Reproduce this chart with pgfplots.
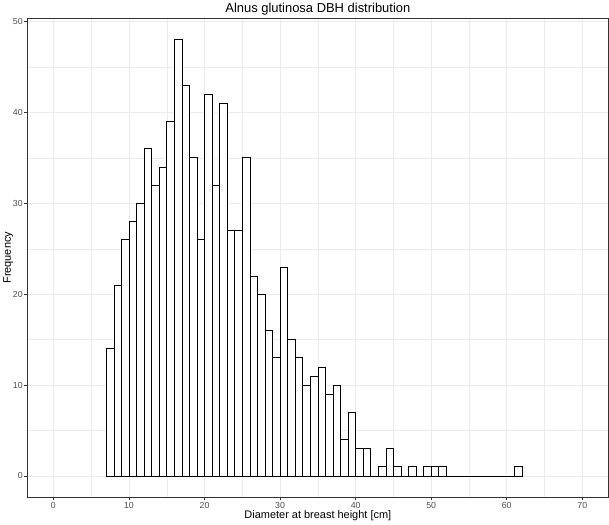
\documentclass[border=0pt]{standalone}
\usepackage{fontspec}
\setmainfont{Liberation Sans}
\usepackage{pgfplots}
\pgfplotsset{compat=1.18}
\definecolor{gray92}{gray}{0.92}
\definecolor{gray20}{gray}{0.20}
\definecolor{gray30}{gray}{0.30}
\begin{document}
\begin{tikzpicture}
\begin{axis}[
  scale only axis, width=582bp, height=480bp,
  xmin=-3.5, xmax=73.5, ymin=-2.4, ymax=50.4,
  xtick={0,10,...,70}, ytick={0,10,...,50},
  minor xtick={5,15,...,65}, minor ytick={5,15,...,45},
  grid=both,
  major grid style={color=gray92, line width=0.55bp},
  minor grid style={color=gray92, line width=0.3bp},
  axis line style={gray20, line width=0.55bp},
  tick align=outside, xtick pos=bottom, ytick pos=left,
  major tick length=2.75bp, minor tick length=0pt,
  tick style={gray20, line width=0.55bp},
  /pgf/number format/assume math mode=true,
  tick label style={font=\fontsize{8.8}{10}\selectfont, text=gray30},
  xticklabel style={yshift=1.5bp},
  yticklabel style={xshift=2bp},
  title={Alnus glutinosa DBH distribution},
  title style={font=\fontsize{13}{15}\selectfont, yshift=-7bp},
  xlabel={Diameter at breast height [cm]},
  ylabel={Frequency},
  label style={font=\fontsize{11}{13}\selectfont},
  xlabel style={yshift=5bp},
  ylabel style={yshift=-7bp},
]
\addplot[ybar interval, fill=white, draw=black, line width=0.65bp] coordinates {
(7,14) (8,21) (9,26) (10,28) (11,30) (12,36) (13,32) (14,34) (15,39) (16,48)
(17,43) (18,35) (19,26) (20,42) (21,32) (22,41) (23,27) (24,27) (25,35) (26,22)
(27,20) (28,16) (29,13) (30,23) (31,15) (32,13) (33,10) (34,11) (35,12) (36,9)
(37,10) (38,4) (39,7) (40,3) (41,3) (42,0) (43,1) (44,3) (45,1) (46,0)
(47,1) (48,0) (49,1) (50,1) (51,1) (52,0) (53,0) (54,0) (55,0) (56,0)
(57,0) (58,0) (59,0) (60,0) (61,1) (62,0)
};
\end{axis}
\end{tikzpicture}
\end{document}
